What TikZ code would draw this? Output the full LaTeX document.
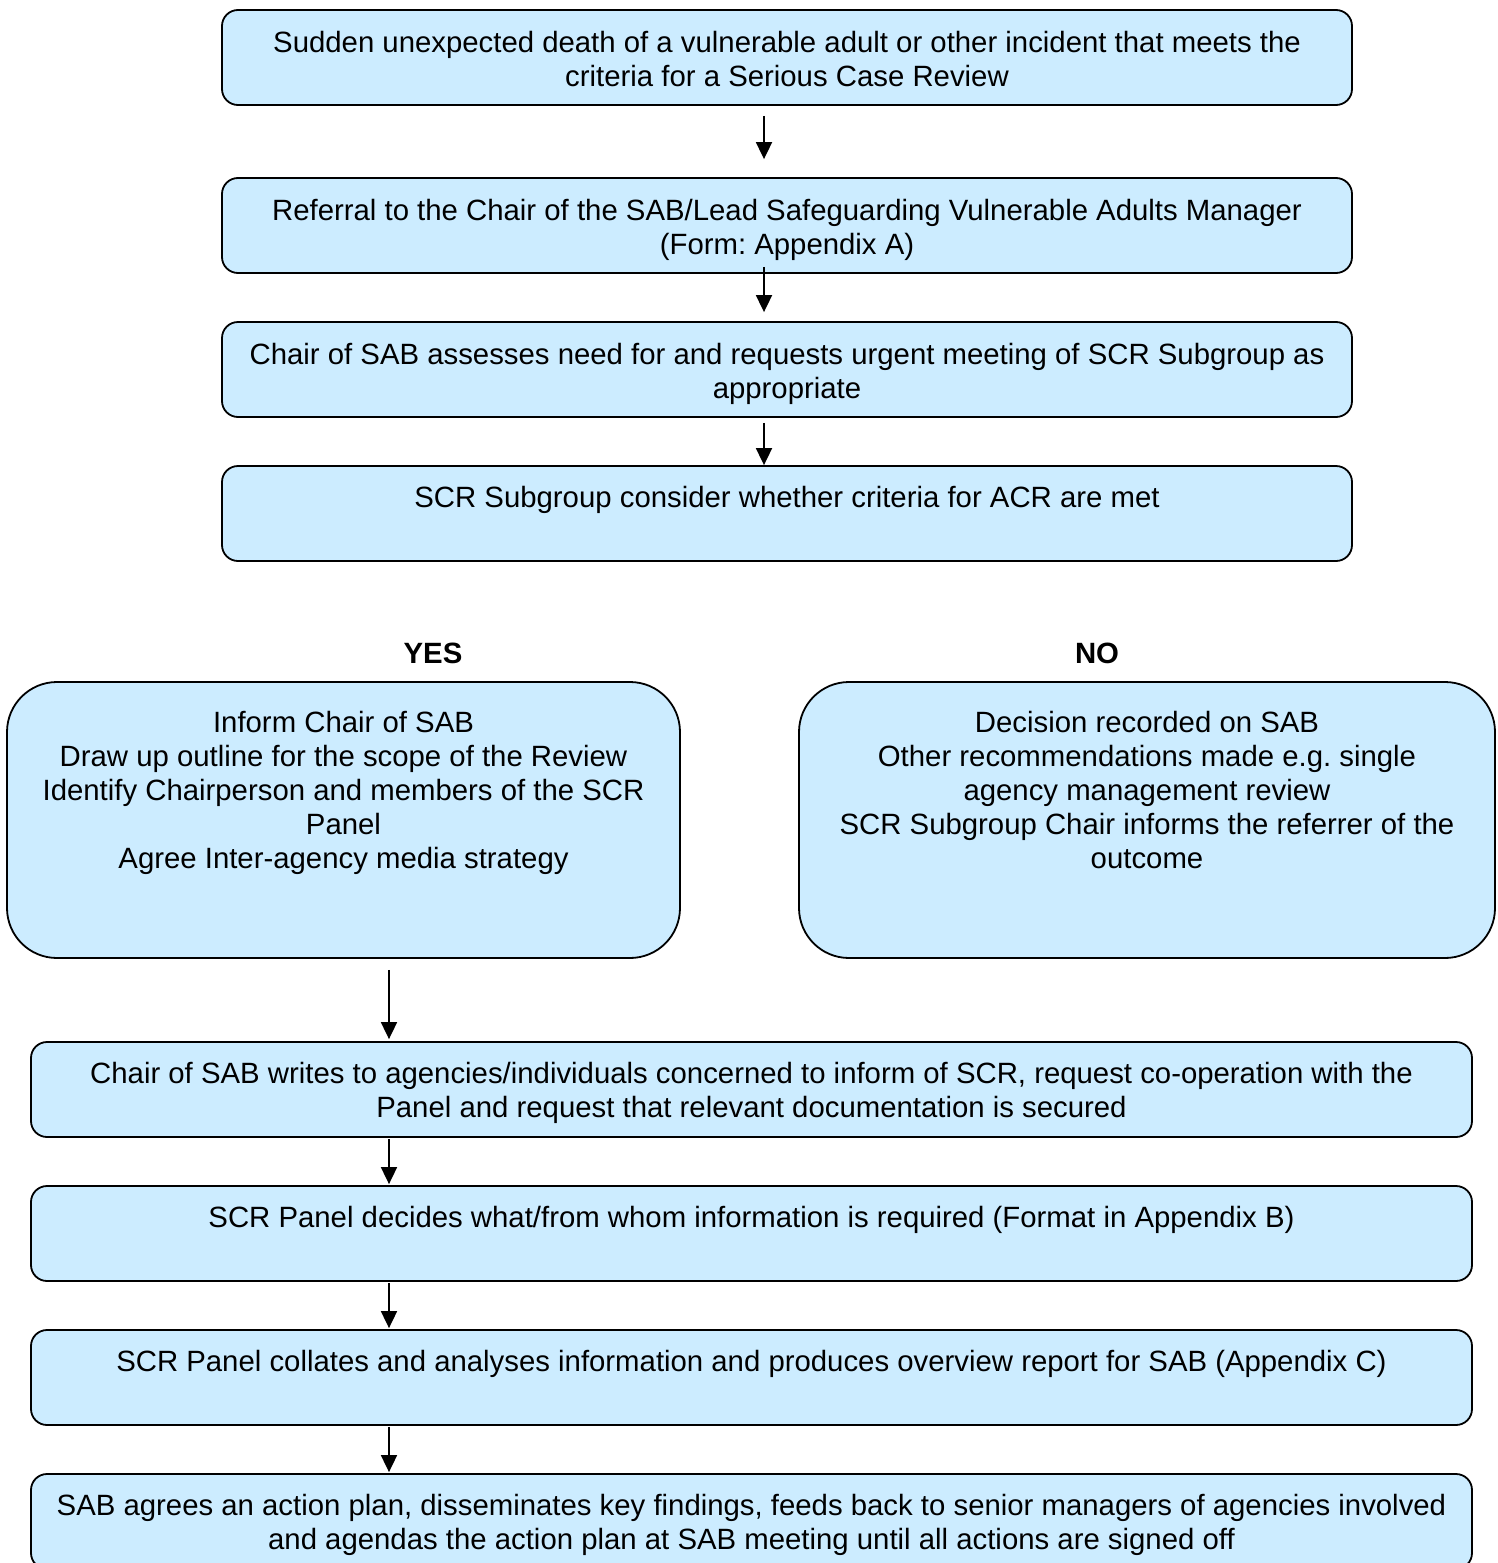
\documentclass[tikz,border=0pt]{standalone}
\usepackage{fontspec}
\setmainfont{Liberation Sans}
\usetikzlibrary{arrows.meta,calc}
\definecolor{boxfill}{HTML}{CCECFF}
\frenchspacing
\newcommand\boxtxt[4]{\begin{minipage}[c][#2pt][t]{#1pt}\frenchspacing\centering\vspace*{#3pt}\strut #4\end{minipage}}
\begin{document}
\begin{tikzpicture}[x=0.5pt,y=-0.5pt,
  every node/.style={font=\fontsize{14.67pt}{17pt}\selectfont},
  flowbox/.style={draw=black,line width=0.9pt,fill=boxfill,rounded corners=8pt,inner sep=0pt},
  bigbox/.style={flowbox,rounded corners=25pt},
  arr/.style={line width=0.9pt,-{Triangle[width=8pt,length=8.5pt]}},
  lbl/.style={font=\fontsize{14.67pt}{17pt}\selectfont\bfseries}]
\clip (0,0) rectangle (1498,1563);
\fill[white] (0,0) rectangle (1498,1563);
\node[flowbox] (b1) at (787,57.5) {\boxtxt{565}{47.5}{9.35}{Sudden unexpected death of a vulnerable adult or other incident that meets the\\criteria for a Serious Case Review}};
\node[flowbox] (b2) at (787,225.5) {\boxtxt{565}{47.5}{9.35}{Referral to the Chair of the SAB/Lead Safeguarding Vulnerable Adults Manager\\(Form: Appendix A)}};
\node[flowbox] (b3) at (787,369.5) {\boxtxt{565}{47.5}{9.35}{Chair of SAB assesses need for and requests urgent meeting of SCR Subgroup as\\appropriate}};
\node[flowbox] (b4) at (787,513.5) {\boxtxt{565}{47.5}{9}{SCR Subgroup consider whether criteria for ACR are met}};
\node[lbl] (yes) at (433,653) {YES};
\node[lbl] (no) at (1097,653) {NO};
\node[bigbox] (b5) at (343.5,820) {\boxtxt{336.5}{138}{13.35}{Inform Chair of SAB\\Draw up outline for the scope of the Review\\Identify Chairperson and members of the SCR\\Panel\\Agree Inter-agency media strategy}};
\node[bigbox] (b6) at (1147,820) {\boxtxt{348}{138}{13.35}{Decision recorded on SAB\\Other recommendations made e.g. single\\agency management review\\SCR Subgroup Chair informs the referrer of the\\outcome}};
\node[flowbox] (b7) at (751.5,1089.5) {\boxtxt{720.5}{47.5}{9}{Chair of SAB writes to agencies/individuals concerned to inform of SCR, request co-operation with the\\Panel and request that relevant documentation is secured}};
\node[flowbox] (b8) at (751.5,1233.5) {\boxtxt{720.5}{47.5}{9}{SCR Panel decides what/from whom information is required (Format in Appendix B)}};
\node[flowbox] (b9) at (751.5,1377.5) {\boxtxt{720.5}{47.5}{9}{SCR Panel collates and analyses information and produces overview report for SAB (Appendix C)}};
\node[flowbox] (b10) at (751.5,1521.5) {\boxtxt{720.5}{47.5}{9}{SAB agrees an action plan, disseminates key findings, feeds back to senior managers of agencies involved\\and agendas the action plan at SAB meeting until all actions are signed off}};
\draw[arr] ($(b1.south)+(-23,10)$) -- ($(b2.north)+(-23,-18)$);
\draw[arr] ($(b2.south)+(-23,-7)$) -- ($(b3.north)+(-23,-9)$);
\draw[arr] ($(b3.south)+(-23,5)$) -- ($(b4.north)+(-23,0)$);
\draw[arr] ($(b5.south)+(45.5,11)$) -- ($(b7.north)+(-362.5,-2)$);
\draw[arr] ($(b7.south)+(-362.5,1)$) -- ($(b8.north)+(-362.5,-1)$);
\draw[arr] ($(b8.south)+(-362.5,1)$) -- ($(b9.north)+(-362.5,-1)$);
\draw[arr] ($(b9.south)+(-362.5,1)$) -- ($(b10.north)+(-362.5,-1)$);
\end{tikzpicture}
\end{document}
